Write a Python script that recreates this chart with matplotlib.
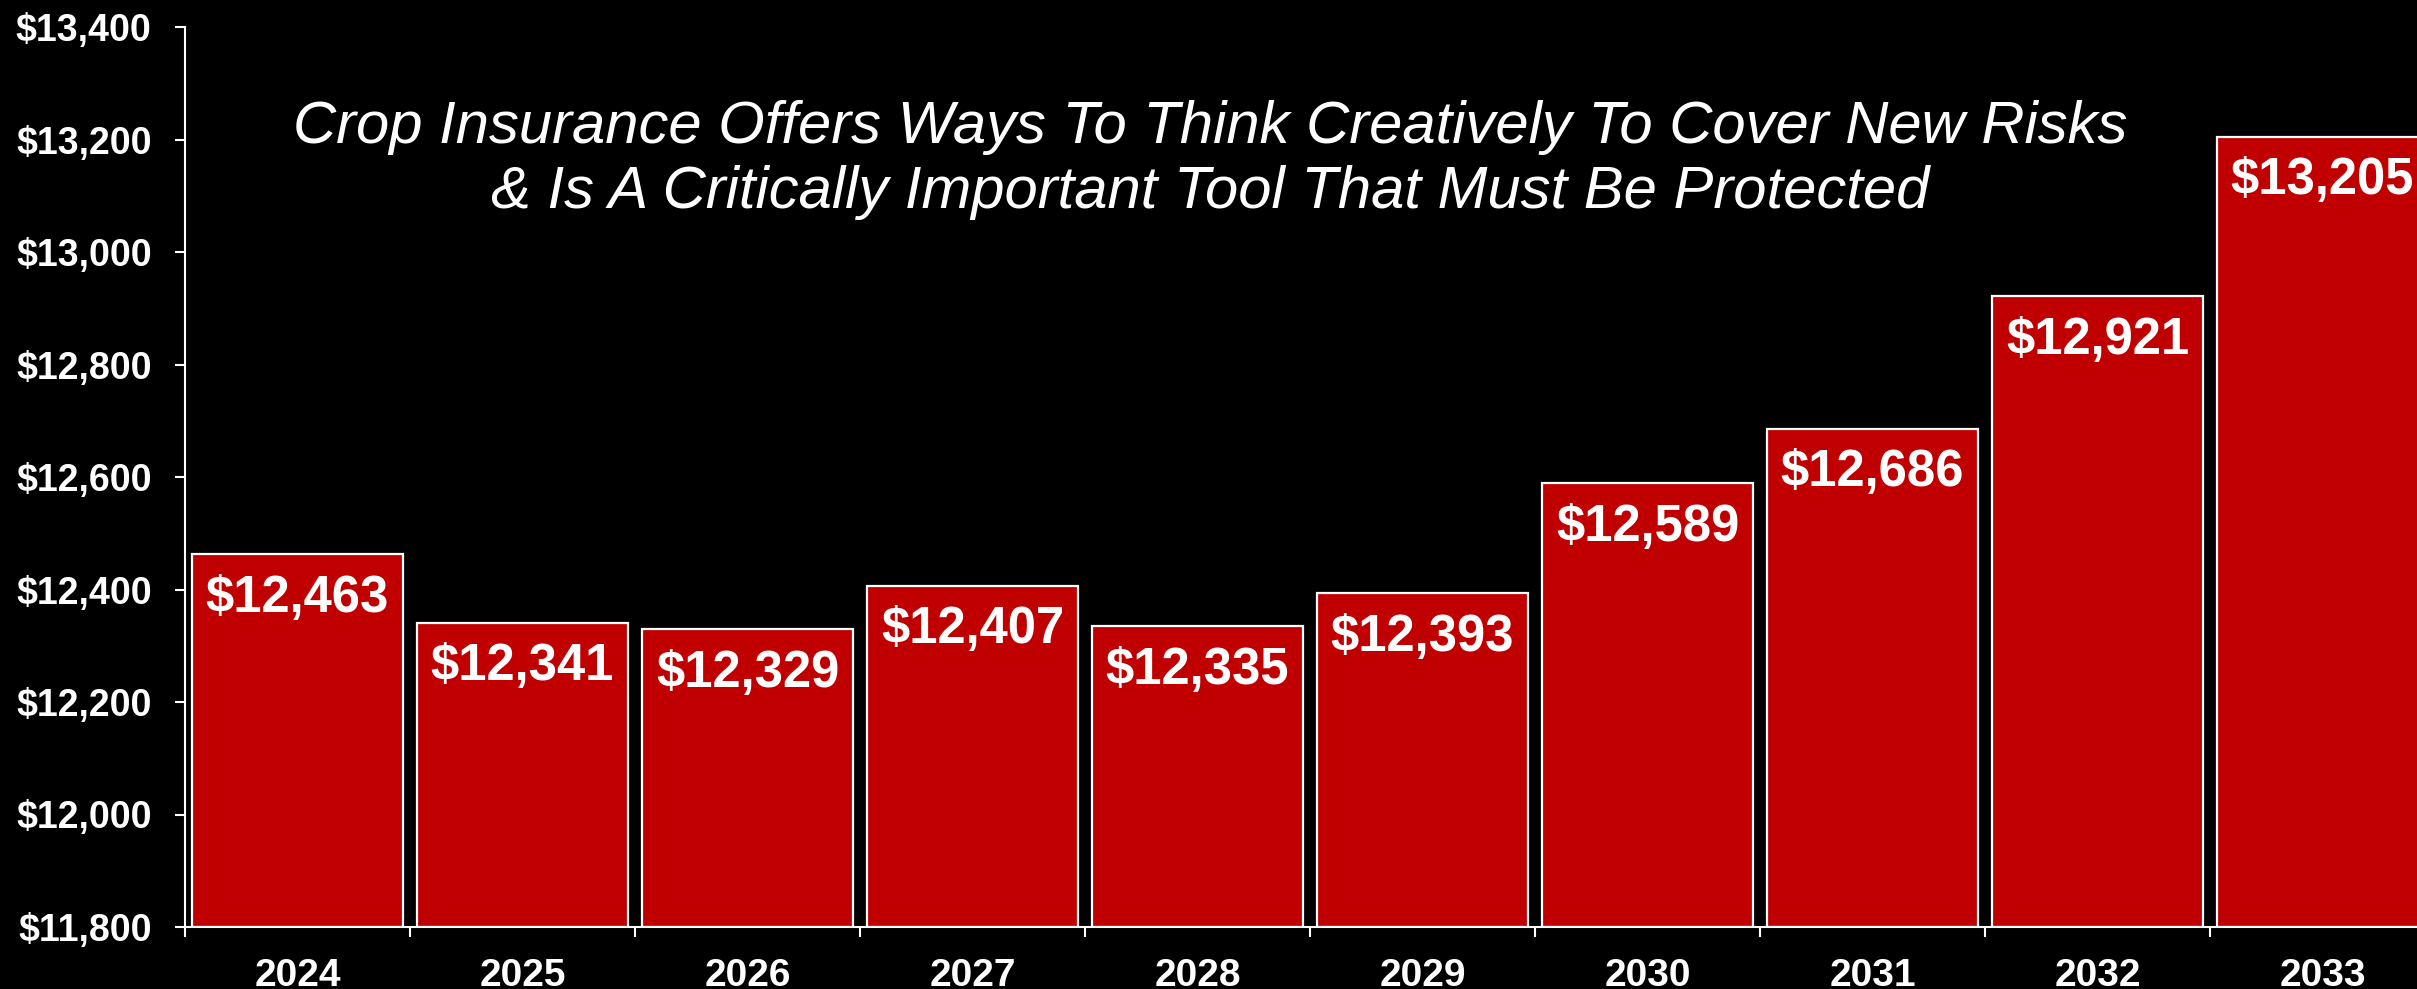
import numpy as np
from matplotlib import pyplot as plt

## Crop insurance spending by year (millions $)
Years=['2024','2025','2026','2027','2028','2029','2030','2031','2032','2033']
Values=[12463,12341,12329,12407,12335,12393,12589,12686,12921,13205]
YTicks=[11800,12000,12200,12400,12600,12800,13000,13200,13400]
Title="Crop Insurance Offers Ways To Think Creatively To Cover New Risks\n& Is A Critically Important Tool That Must Be Protected"

plt.rcParams['font.family']=['Liberation Sans','DejaVu Sans']

fig=plt.figure(figsize=(24.17,9.89),dpi=100,facecolor='black')
## axes run past the right edge on purpose, last bar is clipped like the original
ax=fig.add_axes([185/2417.,62/989.,2250/2417.,900/989.])
ax.set_facecolor('black')

x=np.arange(len(Years))
ax.bar(x,np.array(Values)-YTicks[0],bottom=YTicks[0],width=0.94,color='#C00000',edgecolor='white',linewidth=1.6,zorder=2)

## value labels inside the top of each bar
for i,v in enumerate(Values):
    ax.annotate('${:,}'.format(v),xy=(x[i],v),xytext=(0,-14),textcoords='offset points',
                ha='center',va='top',color='white',fontsize=36.5,fontweight='bold',zorder=3)

ax.set_xlim(-0.5,len(Years)-0.5)
ax.set_ylim(YTicks[0],YTicks[-1])
ax.set_yticks(YTicks)
ax.set_yticklabels(['${:,}'.format(t) for t in YTicks])
ax.set_xticks(x)
ax.set_xticklabels(Years)
ax.set_xticks(np.arange(-0.5,len(Years)-0.5,1),minor=True)

ax.tick_params(axis='y',colors='white',labelsize=27,length=7,width=1.5,pad=17)
ax.tick_params(axis='x',which='major',colors='white',labelsize=28,length=0,pad=22)
ax.tick_params(axis='x',which='minor',colors='white',length=7,width=1.5,direction='out')
for lab in ax.get_yticklabels()+ax.get_xticklabels():
    lab.set_fontweight('bold')

for s in ['top','right']:
    ax.spines[s].set_visible(False)
for s in ['left','bottom']:
    ax.spines[s].set_color('white')
    ax.spines[s].set_linewidth(1.5)

fig.text(1210/2417.,1-160/989.,Title,ha='center',va='center',color='white',fontsize=43,
         fontstyle='italic',linespacing=1.23)

fig.savefig('out.png',dpi=100,facecolor='black')
